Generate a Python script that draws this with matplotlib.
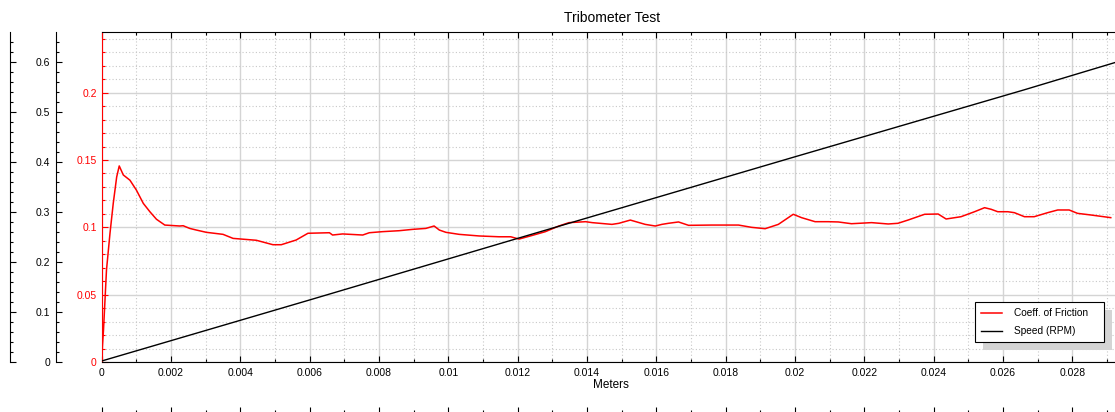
import matplotlib
matplotlib.use("Agg")
import matplotlib.pyplot as plt
from matplotlib.ticker import MultipleLocator, FuncFormatter
from matplotlib.patches import Rectangle
from matplotlib.transforms import IdentityTransform

plt.rcParams['font.family'] = ['Liberation Sans', 'DejaVu Sans']

# coefficient of friction vs distance
cof_m = [0, 0.000023, 0.000052, 0.000095, 0.000138, 0.00024, 0.000334, 0.000432,
         0.000506, 0.000623, 0.000815, 0.001, 0.0012, 0.00139, 0.00158, 0.00182,
         0.00225, 0.00235, 0.00254, 0.00273, 0.00302, 0.0035, 0.00379, 0.00446,
         0.00494, 0.00518, 0.00561, 0.00595, 0.00657, 0.00666, 0.00695, 0.00753,
         0.00772, 0.0081, 0.00858, 0.00897, 0.00935, 0.00959, 0.00974, 0.00993,
         0.01031, 0.01089, 0.01146, 0.0118, 0.01204, 0.01242, 0.0128, 0.01319,
         0.01348, 0.01396, 0.01415, 0.01472, 0.01492, 0.01525, 0.01568, 0.01597,
         0.01616, 0.01635, 0.01664, 0.01693, 0.0176, 0.01837, 0.01875, 0.01914,
         0.01952, 0.01995, 0.02019, 0.02058, 0.02096, 0.02125, 0.02163, 0.02221,
         0.02269, 0.02297, 0.02326, 0.02374, 0.02413, 0.02436, 0.02479, 0.02518,
         0.02547, 0.02566, 0.02585, 0.02614, 0.02633, 0.02662, 0.0269, 0.02729,
         0.02758, 0.02791, 0.02815, 0.02853, 0.02911]
cof_val = [0, 0.0126, 0.0238, 0.046, 0.0683, 0.0958, 0.118, 0.1374,
           0.1456, 0.1389, 0.135, 0.1277, 0.1178, 0.1116, 0.106, 0.1017,
           0.101, 0.1012, 0.0992, 0.098, 0.0963, 0.0948, 0.0918, 0.0904,
           0.0871, 0.0871, 0.0906, 0.0956, 0.096, 0.0943, 0.0951, 0.0943,
           0.096, 0.0968, 0.0975, 0.0985, 0.0992, 0.101, 0.098, 0.0963,
           0.0948, 0.0936, 0.093, 0.093, 0.0913, 0.094, 0.0968, 0.101,
           0.1035, 0.1042, 0.1035, 0.1022, 0.103, 0.1054, 0.1022, 0.101,
           0.1022, 0.103, 0.104, 0.1015, 0.1017, 0.1017, 0.1, 0.099,
           0.1022, 0.1097, 0.1072, 0.1042, 0.1042, 0.104, 0.1027, 0.1035,
           0.1025, 0.103, 0.1054, 0.1097, 0.1099, 0.1062, 0.1079, 0.1116,
           0.1146, 0.1134, 0.1116, 0.1116, 0.1109, 0.1079, 0.1079, 0.1109,
           0.1129, 0.1129, 0.1104, 0.1092, 0.1072]

# speed vs distance
speed_m = [0, 0.006, 0.012, 0.020, 0.0266, 0.0293]
speed_val = [0.002, 0.124, 0.247, 0.41, 0.5435, 0.5997]

W, H = 1115, 412
fig = plt.figure(figsize=(W / 100, H / 100), dpi=100)


def px_rect(x0, y0, x1, y1):
    # pixel box (left, top, right, bottom) -> figure fraction rect
    return [x0 / W, 1 - y1 / H, (x1 - x0) / W, (y1 - y0) / H]


fmt = FuncFormatter(lambda v, p: '%g' % round(v, 6))
ax_l, ax_t, ax_r, ax_b = 101.7, 32.3, 1117, 362
ax = fig.add_axes(px_rect(ax_l, ax_t, ax_r, ax_b))
ax_w, ax_h = ax_r - ax_l, ax_b - ax_t

ax.plot(cof_m, cof_val, color='#ff0000', lw=1.1, label='Coeff. of Friction', zorder=3)
ax.set_xlim(0, 0.02929)
ax.set_ylim(0, 0.24485)
ax.xaxis.set_major_locator(MultipleLocator(0.002))
ax.xaxis.set_minor_locator(MultipleLocator(0.001))
ax.yaxis.set_major_locator(MultipleLocator(0.05))
ax.yaxis.set_minor_locator(MultipleLocator(0.01))
ax.xaxis.set_major_formatter(fmt)
ax.yaxis.set_major_formatter(fmt)
ax.grid(which='major', color='#d4d4d4', lw=1, ls='-')
ax.grid(which='minor', color='#c8c8c8', lw=0.8, ls=(0, (1, 2)))
ax.set_axisbelow(True)
ax.tick_params(axis='x', which='both', direction='in', top=True, bottom=True,
               labelsize=7.5, pad=4, width=0.8, colors='black')
ax.tick_params(axis='x', which='major', length=4.3)
ax.tick_params(axis='x', which='minor', length=2.2)
ax.tick_params(axis='y', which='both', direction='in', left=True, right=False,
               labelsize=7.5, pad=3.6, width=0.8, colors='red')
ax.tick_params(axis='y', which='major', length=4.6)
ax.tick_params(axis='y', which='minor', length=2.4)
ax.spines['left'].set_color('red')
ax.spines['right'].set_visible(False)
for s in ['left', 'top', 'bottom']:
    ax.spines[s].set_linewidth(0.8)

# speed axis on the left, offset outward
ax2 = ax.twinx()
ax2.plot(speed_m, speed_val, color='black', lw=1, label='Speed (RPM)', zorder=3)
ax2.set_ylim(0, 0.6587)
ax2.yaxis.tick_left()
ax2.spines['left'].set_visible(True)
ax2.spines['left'].set_position(('axes', (56 - ax_l) / ax_w))
ax2.spines['left'].set_linewidth(0.8)
for s in ['top', 'right', 'bottom']:
    ax2.spines[s].set_visible(False)
ax2.yaxis.set_major_locator(MultipleLocator(0.1))
ax2.yaxis.set_minor_locator(MultipleLocator(0.02))
ax2.yaxis.set_major_formatter(fmt)
ax2.tick_params(axis='y', which='both', direction='in', labelsize=7.5, pad=4.3,
                width=0.8, colors='black')
ax2.tick_params(axis='y', which='major', length=4.3)
ax2.tick_params(axis='y', which='minor', length=2.0)

# outer unlabeled axes
sec_y = ax2.secondary_yaxis((10 - ax_l) / ax_w)
sec_y.yaxis.set_major_locator(MultipleLocator(0.1))
sec_y.yaxis.set_minor_locator(MultipleLocator(0.02))
sec_y.tick_params(axis='y', which='both', direction='in', labelleft=False,
                  labelright=False, width=0.8)
sec_y.tick_params(axis='y', which='major', length=4.3)
sec_y.tick_params(axis='y', which='minor', length=2.0)
sec_y.spines['left'].set_linewidth(0.8)

sec_x = ax.secondary_xaxis(-(413 - ax_b) / ax_h)
sec_x.xaxis.set_major_locator(MultipleLocator(0.002))
sec_x.xaxis.set_minor_locator(MultipleLocator(0.001))
sec_x.tick_params(axis='x', which='both', direction='in', labelbottom=False,
                  labeltop=False, width=0.8)
sec_x.tick_params(axis='x', which='major', length=4.3)
sec_x.tick_params(axis='x', which='minor', length=2.2)

# legend with flat grey drop shadow
h1, l1 = ax.get_legend_handles_labels()
h2, l2 = ax2.get_legend_handles_labels()
leg_x0, leg_x1 = (975 - ax_l) / ax_w, (1104 - ax_l) / ax_w
leg_top, leg_bot = (ax_b - 302) / ax_h, (ax_b - 343) / ax_h
leg = ax2.legend(h1 + h2, l1 + l2, loc='upper left',
                 bbox_to_anchor=(leg_x0, leg_bot, leg_x1 - leg_x0, leg_top - leg_bot),
                 mode='expand', fontsize=7.3, fancybox=False, framealpha=1,
                 edgecolor='black', borderpad=0.6, handlelength=2.1,
                 handletextpad=1.1, labelspacing=0.8, borderaxespad=0)
leg.get_frame().set_linewidth(0.8)
leg.set_zorder(5)

fig.text(611.7 / W, 1 - 18 / H, 'Tribometer Test', ha='center', va='center', fontsize=10)
fig.text(611.3 / W, 1 - 385.5 / H, 'Meters', ha='center', va='center', fontsize=8.5)

fig.canvas.draw()
bb = leg.get_frame().get_window_extent(fig.canvas.get_renderer())
shadow = Rectangle((bb.x0 + 8, bb.y0 - 8), bb.width, bb.height,
                   transform=IdentityTransform(), facecolor='#d4d4d4',
                   edgecolor='none', zorder=4.9, clip_on=False)
ax2.add_artist(shadow)

fig.savefig('out.png', dpi=100)
